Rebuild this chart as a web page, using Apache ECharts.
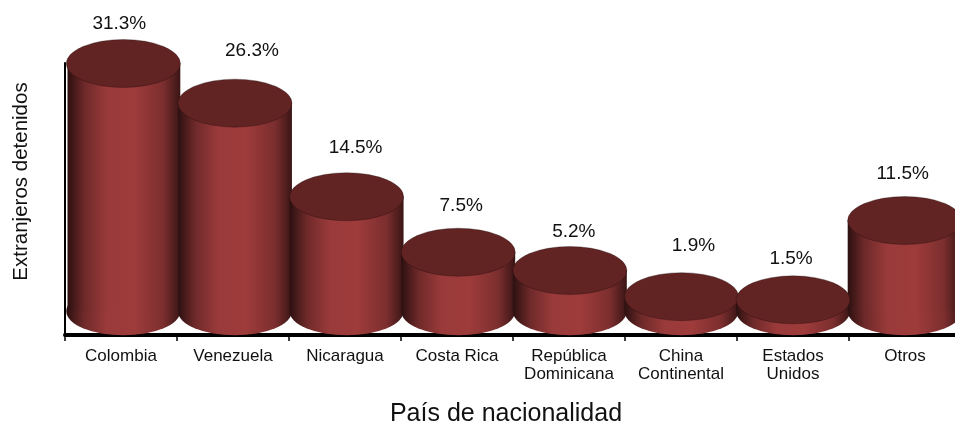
<!DOCTYPE html>
<html>
<head>
<meta charset="utf-8">
<style>
html, body { margin: 0; padding: 0; background: #fff; overflow: hidden; }
#chart { width: 975px; height: 423px; }
</style>
<script src="https://cdn.jsdelivr.net/npm/echarts@6/dist/echarts.min.js"></script>
</head>
<body>
<div id="chart"></div>
<script>
const countries = ['Colombia', 'Venezuela', 'Nicaragua', 'Costa Rica', 'República\nDominicana', 'China\nContinental', 'Estados\nUnidos', 'Otros'];
const shares = [31.3, 26.3, 14.5, 7.5, 5.2, 1.9, 1.5, 11.5];
// los rotulos no estan centrados sobre cada cilindro
const labelShiftX = [-4, 17, 9, 3, 4, 12, -2, -2];
const labelShiftY = [-1, -13, -10, -7, 0, -12, -2, -8];

const font = 'Liberation Sans';
const chart = echarts.init(document.getElementById('chart'));

const sideColor = {
  type: 'linear', x: 0, y: 0, x2: 1, y2: 0,
  colorStops: [
    { offset: 0, color: '#2c1010' },
    { offset: 0.15, color: '#6e2929' },
    { offset: 0.35, color: '#9a3a3a' },
    { offset: 0.6, color: '#9e3b3b' },
    { offset: 0.85, color: '#7c2e2e' },
    { offset: 1, color: '#3a1515' }
  ]
};

const topData = shares.map((value, i) => ({
  value: value,
  label: { offset: [labelShiftX[i], labelShiftY[i]] }
}));

chart.setOption({
  animation: false,
  grid: [
    { left: 65, top: 63, width: 896, height: 272, outerBoundsMode: 'none' }, // ejes
    { left: 67.5, top: 63, width: 893, height: 272, outerBoundsMode: 'none' } // cilindros
  ],
  xAxis: [
    {
      type: 'category',
      data: countries,
      axisLine: { onZero: false, lineStyle: { color: '#000', width: 4 } },
      axisTick: { show: true, length: 6, lineStyle: { color: '#000', width: 1.5 } },
      axisLabel: { color: '#111', fontFamily: font, fontSize: 17, margin: 12, lineHeight: 18, interval: 0 },
      name: 'País de nacionalidad',
      nameLocation: 'middle',
      nameGap: 67,
      nameTextStyle: { color: '#111', fontFamily: font, fontSize: 25, padding: [0, 14, 0, 0] }
    },
    { type: 'category', data: countries, gridIndex: 1, show: false }
  ],
  yAxis: [
    {
      type: 'value',
      min: -3,
      max: 31.3,
      axisLine: { show: true, lineStyle: { color: '#000', width: 2 } },
      axisTick: { show: false },
      axisLabel: { show: false },
      splitLine: { show: false },
      name: 'Extranjeros detenidos',
      nameLocation: 'middle',
      nameGap: 33,
      nameTextStyle: { color: '#111', fontFamily: font, fontSize: 20.5, padding: [0, 0, 0, 35] }
    },
    { type: 'value', min: -3, max: 31.3, gridIndex: 1, show: false }
  ],
  series: [
    {
      type: 'bar',
      data: shares,
      xAxisIndex: 1,
      yAxisIndex: 1,
      barWidth: 114,
      z: 2,
      itemStyle: { color: sideColor }
    },
    {
      type: 'pictorialBar',
      data: shares,
      xAxisIndex: 1,
      yAxisIndex: 1,
      symbol: 'circle',
      symbolSize: [114, 48],
      symbolPosition: 'start',
      symbolOffset: [0, '50%'],
      z: 2,
      itemStyle: { color: sideColor }
    },
    {
      type: 'pictorialBar',
      data: topData,
      xAxisIndex: 1,
      yAxisIndex: 1,
      symbol: 'circle',
      symbolSize: [114, 48],
      symbolPosition: 'end',
      symbolOffset: [0, '-50%'],
      z: 3,
      itemStyle: { color: '#622323', borderColor: '#150808', borderWidth: 1.5 },
      label: {
        show: true,
        position: 'top',
        formatter: '{c}%',
        color: '#111',
        fontFamily: font,
        fontSize: 19
      }
    }
  ]
});

window.onresize = function() {
  chart.resize();
};
</script>
</body>
</html>
